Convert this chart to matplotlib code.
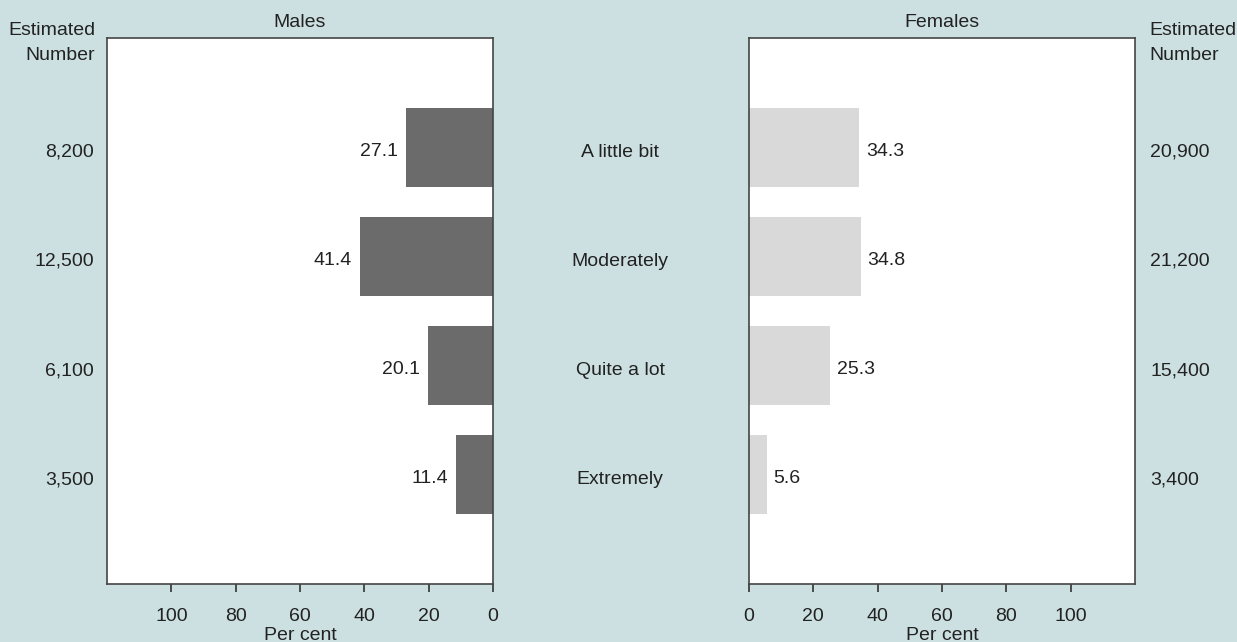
import matplotlib.pyplot as plt

categories = ["A little bit", "Moderately", "Quite a lot", "Extremely"]
males_pct = [27.1, 41.4, 20.1, 11.4]
females_pct = [34.3, 34.8, 25.3, 5.6]
males_num = ["8,200", "12,500", "6,100", "3,500"]
females_num = ["20,900", "21,200", "15,400", "3,400"]
ticks = [0, 20, 40, 60, 80, 100]

bg = "#cde0e1"
txt = "#222222"
fs = 14
plt.rcParams["font.family"] = ["Liberation Sans", "DejaVu Sans"]

fig = plt.figure(figsize=(12.37, 6.42), dpi=100, facecolor=bg)
W, H = 1237, 642
axL = fig.add_axes([107 / W, 1 - 584 / H, 386 / W, 546 / H])
axR = fig.add_axes([749 / W, 1 - 584 / H, 386 / W, 546 / H])

pos = list(range(len(categories)))
axL.barh(pos, males_pct, height=0.72, color="#6b6b6b")
axR.barh(pos, females_pct, height=0.72, color="#d9d9d9")

for ax in (axL, axR):
    ax.set_xlim(0, 120)
    ax.set_ylim(4, -1)
    ax.set_yticks([])
    ax.set_xticks(ticks)
    ax.set_xticklabels([str(t) for t in ticks])
    ax.tick_params(axis="x", direction="out", length=6, width=1.2, colors="#333333",
                   labelcolor=txt, labelsize=fs, pad=11)
    for s in ax.spines.values():
        s.set_color("#444444")
        s.set_linewidth(1.2)
    ax.set_xlabel("Per cent", fontsize=fs, color=txt, labelpad=2)
axL.invert_xaxis()

axL.set_title("Males", fontsize=fs, color=txt, pad=8)
axR.set_title("Females", fontsize=fs, color=txt, pad=8)

dy = 0.035
for i in pos:
    axL.text(males_pct[i] + 2.5, i + dy, f"{males_pct[i]:.1f}", ha="right", va="center",
             fontsize=fs, color=txt)
    axR.text(females_pct[i] + 2, i + dy, f"{females_pct[i]:.1f}", ha="left", va="center",
             fontsize=fs, color=txt)
    y = 1 - (43 + 546 * (i + 1) / 5) / H
    fig.text(620 / W, y, categories[i], ha="center", va="center", fontsize=fs, color=txt)
    fig.text(94 / W, y, males_num[i], ha="right", va="center", fontsize=fs, color=txt)
    fig.text(1150 / W, y, females_num[i], ha="left", va="center", fontsize=fs, color=txt)

fig.text(95 / W, 1 - 43 / H, "Estimated\nNumber", ha="right", va="center", fontsize=fs,
         color=txt, linespacing=1.65)
fig.text(1149 / W, 1 - 43 / H, "Estimated\nNumber", ha="left", va="center", fontsize=fs,
         color=txt, linespacing=1.65)

fig.savefig("out.png", dpi=100, facecolor=bg)
